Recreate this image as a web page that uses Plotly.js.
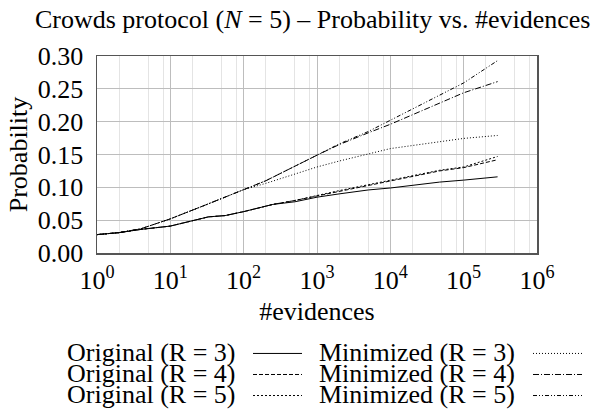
<!DOCTYPE html>
<html><head><meta charset="utf-8">
<script src="https://cdn.plot.ly/plotly-3.0.1.min.js"></script>
<style>body{margin:0;background:#fff}#c{width:606px;height:417px}</style>
</head><body><div id="c"></div>
<script>
// ---- data ----
var xOrig = [1, 2, 4, 10, 33, 56, 100, 250, 500, 1000, 2000, 5000, 10000, 47000, 100000, 290000];
var yOrigR3 = [0.028, 0.031, 0.036, 0.041, 0.055, 0.057, 0.063, 0.074, 0.078, 0.085, 0.090, 0.096, 0.099, 0.108, 0.111, 0.116];
var yOrigR4 = [0.028, 0.031, 0.036, 0.041, 0.055, 0.057, 0.063, 0.074, 0.080, 0.087, 0.094, 0.103, 0.110, 0.125, 0.130, 0.142];
var yOrigR5 = [0.028, 0.031, 0.036, 0.041, 0.055, 0.057, 0.063, 0.074, 0.080, 0.088, 0.095, 0.104, 0.111, 0.126, 0.131, 0.147];

var xMin = [1, 2, 4, 10, 30, 56, 100, 200, 1000, 2000, 5000, 10000, 100000, 290000];
var yMinR3 = [0.028, 0.031, 0.037, 0.052, 0.073, 0.085, 0.0965, 0.106, 0.131, 0.140, 0.151, 0.159, 0.1745, 0.179];
var yMinR4 = [0.028, 0.031, 0.037, 0.052, 0.073, 0.085, 0.0965, 0.110, 0.149, 0.165, 0.183, 0.196, 0.244, 0.261];
var yMinR5 = [0.028, 0.031, 0.037, 0.052, 0.073, 0.085, 0.0965, 0.110, 0.149, 0.166, 0.185, 0.202, 0.259, 0.293];

var seriesNames = ["Original (R = 3)", "Original (R = 4)", "Original (R = 5)",
                   "Minimized (R = 3)", "Minimized (R = 4)", "Minimized (R = 5)"];
var xTickVals = [1, 10, 100, 1000, 10000, 100000, 1000000];
var xTickText = ["10<sup>0</sup>", "10<sup>1</sup>", "10<sup>2</sup>", "10<sup>3</sup>", "10<sup>4</sup>", "10<sup>5</sup>", "10<sup>6</sup>"];
var xMinorVals = [2,5,8,20,50,80,200,500,800,2000,5000,8000,20000,50000,80000,200000,500000,800000];

// ---- styles ----
var dashes = ["solid", "4px,2px", "2px,2px", "1px,2px", "6px,2px,1px,2px", "4px,2px,1px,2px,1px,2px"];
var xs = [xOrig, xOrig, xOrig, xMin, xMin, xMin];
var ys = [yOrigR3, yOrigR4, yOrigR5, yMinR3, yMinR4, yMinR5];
var FONT = "Liberation Serif, Times New Roman, serif";
var FS = 26;

var traces = seriesNames.map(function(n, i){
  return {x: xs[i], y: ys[i], name: n, type: "scatter", mode: "lines",
          line: {color: "#000", width: 1, dash: dashes[i]}, showlegend: false};
});

// plot area in pixels
var L = 97, R = 537, T = 56, B = 252.7, W = 606, H = 417;
function px(x){ return (x - L) / (R - L); }
function py(y){ return (B - y) / (B - T); }

var annotations = [], shapes = [];
var rowsY = [352, 373, 394];
var cols = [{tx: 66, l0: 253, l1: 302}, {tx: 318, l0: 533, l1: 582}];
seriesNames.forEach(function(n, i){
  var c = cols[Math.floor(i/3)], r = rowsY[i % 3];
  annotations.push({xref: "paper", yref: "paper", x: px(c.tx), y: py(r), xanchor: "left", yanchor: "middle",
    text: n, showarrow: false, borderpad: 0,
    font: {family: FONT, size: FS, color: "#000"}});
  shapes.push({type: "line", xref: "paper", yref: "paper", x0: px(c.l0), x1: px(c.l1), y0: py(r + 1), y1: py(r + 1),
    line: {color: "#000", width: 1, dash: dashes[i]}});
});

var layout = {
  width: W, height: H,
  margin: {l: L, r: W - R, t: T, b: H - B},
  paper_bgcolor: "#fff", plot_bgcolor: "#fff",
  showlegend: false,
  font: {family: FONT, size: FS, color: "#000"},
  title: {text: "Crowds protocol (<i>N</i> = 5) – Probability vs. #evidences", x: 0.516, xanchor: "center", y: 0.955, yanchor: "middle",
          font: {family: FONT, size: FS, color: "#000"}},
  xaxis: {type: "log", range: [0, 6], tickvals: xTickVals, ticktext: xTickText,
          showgrid: true, gridcolor: "#bdbdbd", gridwidth: 1,
          minor: {tickvals: xMinorVals, showgrid: true, gridcolor: "#e4e4e4", gridwidth: 1, ticks: ""},
          showline: true, linecolor: "#555", linewidth: 1.5, mirror: true, ticks: "", zeroline: false,
          tickfont: {family: FONT, size: FS}, automargin: false, ticklabelstandoff: 3,
          title: {text: "#evidences", font: {family: FONT, size: FS}, standoff: 8}},
  yaxis: {range: [0, 0.30], dtick: 0.05, tick0: 0, tickformat: ".2f",
          showgrid: true, gridcolor: "#bdbdbd", gridwidth: 1,
          showline: true, linecolor: "#555", linewidth: 1.5, mirror: true, ticks: "", zeroline: false,
          tickfont: {family: FONT, size: FS}, automargin: false, ticklabelstandoff: 7,
          title: {text: "Probability", font: {family: FONT, size: FS}, standoff: 2}},
  annotations: annotations,
  shapes: shapes
};

Plotly.newPlot("c", traces, layout, {staticPlot: true, displayModeBar: false});
</script>
</body></html>
